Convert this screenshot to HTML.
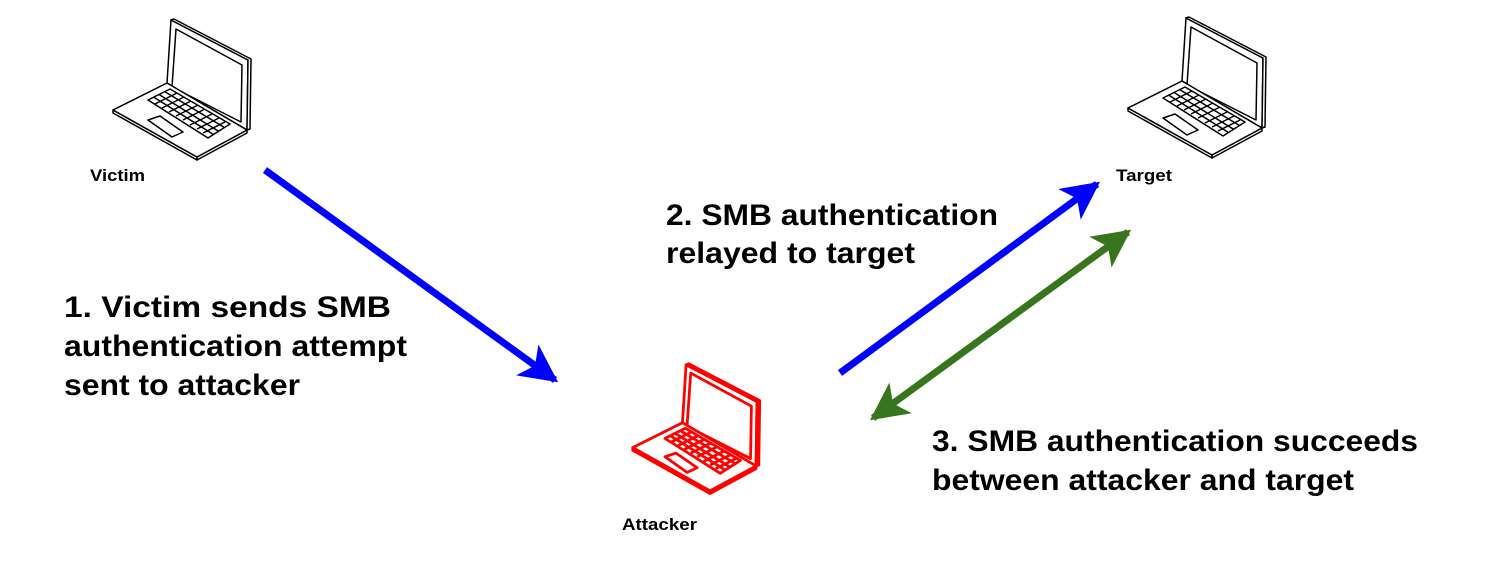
<!DOCTYPE html>
<html><head><meta charset="utf-8"><style>
html,body{margin:0;padding:0;background:#fff;}
svg{display:block;}
text{font-family:"Liberation Sans",Arial,sans-serif;font-weight:bold;fill:#000;}
</style></head><body>
<svg width="1486" height="577" viewBox="0 0 1486 577" xmlns="http://www.w3.org/2000/svg">
<defs>
<g id="lap" fill="#fff" stroke-linejoin="round">
  <polygon points="61,3 138,43 137,113 57,66"/>
  <polygon points="64,2 141,42 140,112 137,113 138,43 61,3"/>
  <polygon points="66,12 132,48 131,105 62,70"/>
  <polygon points="3,93 87,140 87,143 3,96"/>
  <polygon points="87,140 137,113 137,116 87,143"/>
  <polygon points="57,66 137,113 87,140 3,93"/>
  <polygon points="38,83 60,72 120,107 98,121"/>
  <path d="M43.5,80 L103.5,117.5 M49,77.5 L109,114.5 M54.5,74.5 L114.5,110.5 M45,87 L67,76 M52,91 L74,80 M59,95 L81,84 M66,99 L88,88 M73,103 L95,92 M80,108 L102,97 M87,112 L109,101 M93,116 L115,105" fill="none"/>
  <polygon points="38,103 50,99 73,115 62,120"/>
</g>
<marker id="hb" viewBox="0 0 10 10" refX="9" refY="5" markerUnits="userSpaceOnUse" markerWidth="44" markerHeight="38" orient="auto-start-reverse">
  <path d="M0,0 L10,5 L0,10 L2.5,5 z" fill="#0000ff"/>
</marker>
<marker id="hg" viewBox="0 0 10 10" refX="9" refY="5" markerUnits="userSpaceOnUse" markerWidth="44" markerHeight="38" orient="auto-start-reverse">
  <path d="M0,0 L10,5 L0,10 L2.5,5 z" fill="#38761d"/>
</marker>
</defs>
<use href="#lap" transform="translate(110,17)" stroke="#000" stroke-width="1.5"/>
<use href="#lap" transform="translate(1125,15)" stroke="#000" stroke-width="1.5"/>
<use href="#lap" transform="translate(630,362) scale(0.92)" stroke="#ff0000" stroke-width="3"/>

<line x1="265" y1="170" x2="555" y2="380" stroke="#0000ff" stroke-width="7" marker-end="url(#hb)"/>
<line x1="840" y1="373" x2="1097" y2="184" stroke="#0000ff" stroke-width="7" marker-end="url(#hb)"/>
<line x1="873" y1="418" x2="1128" y2="232" stroke="#38761d" stroke-width="7" marker-start="url(#hg)" marker-end="url(#hg)"/>

<text x="90" y="181" font-size="17" textLength="55" lengthAdjust="spacingAndGlyphs">Victim</text>
<text x="1116" y="181" font-size="17" textLength="56" lengthAdjust="spacingAndGlyphs">Target</text>
<text x="622" y="530" font-size="17" textLength="75" lengthAdjust="spacingAndGlyphs">Attacker</text>

<text x="64" y="317" font-size="30" textLength="327" lengthAdjust="spacingAndGlyphs">1. Victim sends SMB</text>
<text x="64" y="356" font-size="30" textLength="343" lengthAdjust="spacingAndGlyphs">authentication attempt</text>
<text x="64" y="395" font-size="30" textLength="236" lengthAdjust="spacingAndGlyphs">sent to attacker</text>
<text x="666" y="225" font-size="30" textLength="332" lengthAdjust="spacingAndGlyphs">2. SMB authentication</text>
<text x="666" y="263" font-size="30" textLength="249" lengthAdjust="spacingAndGlyphs">relayed to target</text>
<text x="932" y="451" font-size="30" textLength="486" lengthAdjust="spacingAndGlyphs">3. SMB authentication succeeds</text>
<text x="932" y="490" font-size="30" textLength="422" lengthAdjust="spacingAndGlyphs">between attacker and target</text>
</svg>
</body></html>
